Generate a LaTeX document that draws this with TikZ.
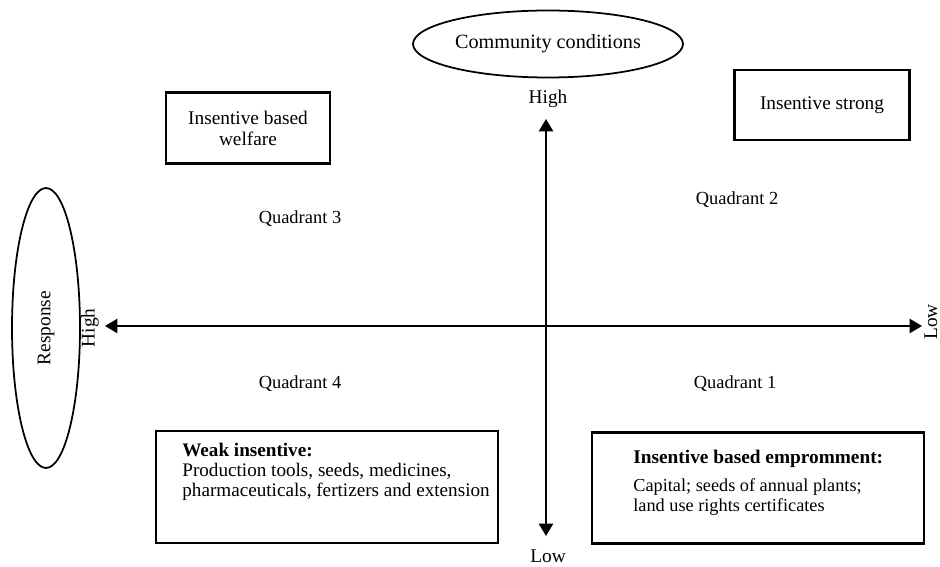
\documentclass[tikz,border=0pt]{standalone}
\usepackage{fontspec}
\setmainfont{Liberation Serif}
\usetikzlibrary{arrows.meta,shapes.geometric,positioning}

\begin{document}
\begin{tikzpicture}[x=0.02cm,y=-0.02cm,
  font=\fontsize{11}{12}\selectfont,
  box/.style={draw,line width=1.3pt,inner sep=0pt,align=center},
  oval/.style={draw,ellipse,line width=1pt,inner sep=0pt},
  quad/.style={font=\fontsize{10.5}{12}\selectfont},
  axis/.style={line width=1.2pt,{Triangle[length=7pt,width=8pt]}-{Triangle[length=7pt,width=8pt]}}]
\useasboundingbox (0,0) rectangle (940,567);

% ellipses
\node[oval,minimum width=5.4cm,minimum height=1.34cm,font=\fontsize{11.5}{12}\selectfont] (cc) at (548,44) {Community conditions};
\node[oval,rotate=90,minimum width=5.6cm,minimum height=1.36cm] (resp) at (46,328) {Response};

% axis ends
\node (hiT) at (548,99) {High};
\node (loB) at (548,556) {Low};
\node[rotate=90] (hiL) at (90,328) {High};
\node[rotate=90] (loR) at (931,322) {Low};
\coordinate (top) at (546,119);
\coordinate (bot) at (546,536);
\coordinate (lft) at (105,326);
\coordinate (rgt) at (922,326);
\draw[axis] (top) -- (bot);
\draw[axis] (lft) -- (rgt);

% quadrants
\node[quad] (q3) at (300,219) {Quadrant 3};
\node[quad] (q2) at (737,200) {Quadrant 2};
\node[quad] (q4) at (300,384) {Quadrant 4};
\node[quad] (q1) at (735,384) {Quadrant 1};

% boxes
\node[box,minimum width=3.28cm,minimum height=1.42cm] (welf) at (248,128) {Insentive based\\welfare};
\node[box,minimum width=3.5cm,minimum height=1.4cm] (strong) at (822,105) {Insentive strong};
\node[box,minimum width=6.84cm,minimum height=2.24cm] (weak) at (327,487) {};
\node[anchor=north west,align=left,inner sep=0pt,font=\fontsize{10.9}{11.4}\selectfont] (weaktxt) at (182,443)
  {\textbf{Weak insentive:}\\Production tools, seeds, medicines,\\pharmaceuticals, fertizers and extension};
\node[box,minimum width=6.64cm,minimum height=2.22cm] (emp) at (758,488) {};
\node[anchor=north west,align=left,inner sep=0pt,font=\fontsize{10.4}{11.6}\selectfont] (emptxt) at (633,450)
  {\textbf{\fontsize{11}{11.6}\selectfont Insentive based empromment:}\\[4pt]Capital; seeds of annual plants;\\land use rights certificates};
\end{tikzpicture}
\end{document}
